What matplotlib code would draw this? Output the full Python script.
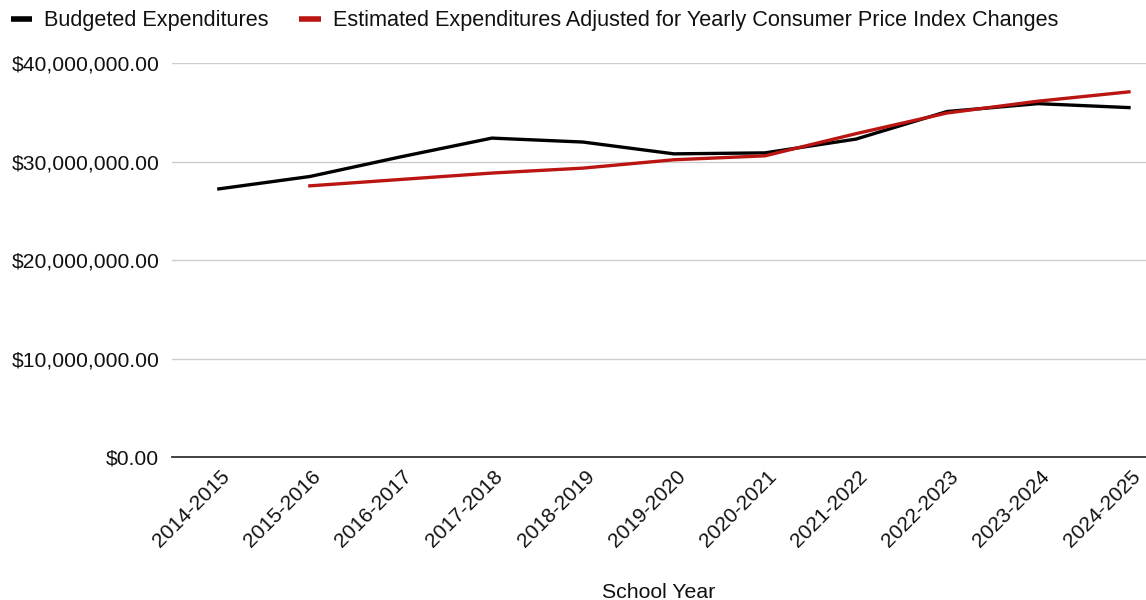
import matplotlib
matplotlib.use("Agg")
import matplotlib.pyplot as plt
import matplotlib.transforms as mtransforms
from matplotlib.lines import Line2D
from matplotlib.ticker import FuncFormatter
import numpy as np

plt.rcParams['font.family'] = ['Liberation Sans', 'DejaVu Sans']

years = ["2014-2015", "2015-2016", "2016-2017", "2017-2018", "2018-2019",
         "2019-2020", "2020-2021", "2021-2022", "2022-2023", "2023-2024", "2024-2025"]
budgeted = [27.24e6, 28.5e6, 30.5e6, 32.4e6, 32.0e6, 30.8e6, 30.9e6,
            32.3e6, 35.1e6, 35.9e6, 35.5e6]
cpi_adjusted = [np.nan, 27.55e6, 28.2e6, 28.85e6, 29.35e6, 30.2e6, 30.6e6,
                32.85e6, 34.95e6, 36.15e6, 37.1e6]
y_ticks = [0, 10e6, 20e6, 30e6, 40e6]

black = "#000000"
red = "#bb1512"

fig = plt.figure(figsize=(11.46, 6.0), dpi=100)
ax = fig.add_axes([0.150, 0.2383, 0.850, 0.6562])

x = np.arange(len(years))
ax.plot(x, budgeted, color=black, lw=2.4, solid_joinstyle='round', zorder=3)
ax.plot(x, cpi_adjusted, color=red, lw=2.4, solid_joinstyle='round', zorder=4)

ax.set_xlim(-0.516, 10.187)
ax.set_ylim(0, 40e6)
ax.set_yticks(y_ticks)
ax.yaxis.set_major_formatter(FuncFormatter(lambda v, p: "${:,.2f}".format(v)))
ax.grid(axis='y', color='#cccccc', lw=1.0, zorder=0)
ax.set_axisbelow(True)
for s in ['top', 'right', 'left']:
    ax.spines[s].set_visible(False)
ax.spines['bottom'].set_color('#333333')
ax.spines['bottom'].set_linewidth(1.3)
ax.spines['bottom'].set_zorder(2)

ax.tick_params(axis='y', length=0, pad=9, labelsize=15.2, labelcolor='#111111')
ax.tick_params(axis='x', length=0, pad=4, labelsize=15, labelcolor='#111111')
ax.set_xticks(x)
ax.set_xticklabels(years, rotation=45, ha='right', va='center', rotation_mode='anchor')
offset = mtransforms.ScaledTranslation(6/72, -8/72, fig.dpi_scale_trans)
for lab in ax.get_xticklabels():
    lab.set_transform(lab.get_transform() + offset)

ax.set_xlabel("School Year", fontsize=15.3, color='#111111', labelpad=23)

handles = [Line2D([0], [0], color=black, lw=4, solid_capstyle='butt'),
           Line2D([0], [0], color=red, lw=4, solid_capstyle='butt')]
fig.legend(handles, ["Budgeted Expenditures",
                     "Estimated Expenditures Adjusted for Yearly Consumer Price Index Changes"],
           loc='upper left', bbox_to_anchor=(-0.004, 1.008), ncol=2, frameon=False,
           fontsize=15.6, handlelength=1.0, handletextpad=0.55, columnspacing=1.4,
           borderaxespad=0.3, labelcolor='#111111')

fig.savefig("out.png", dpi=100)
